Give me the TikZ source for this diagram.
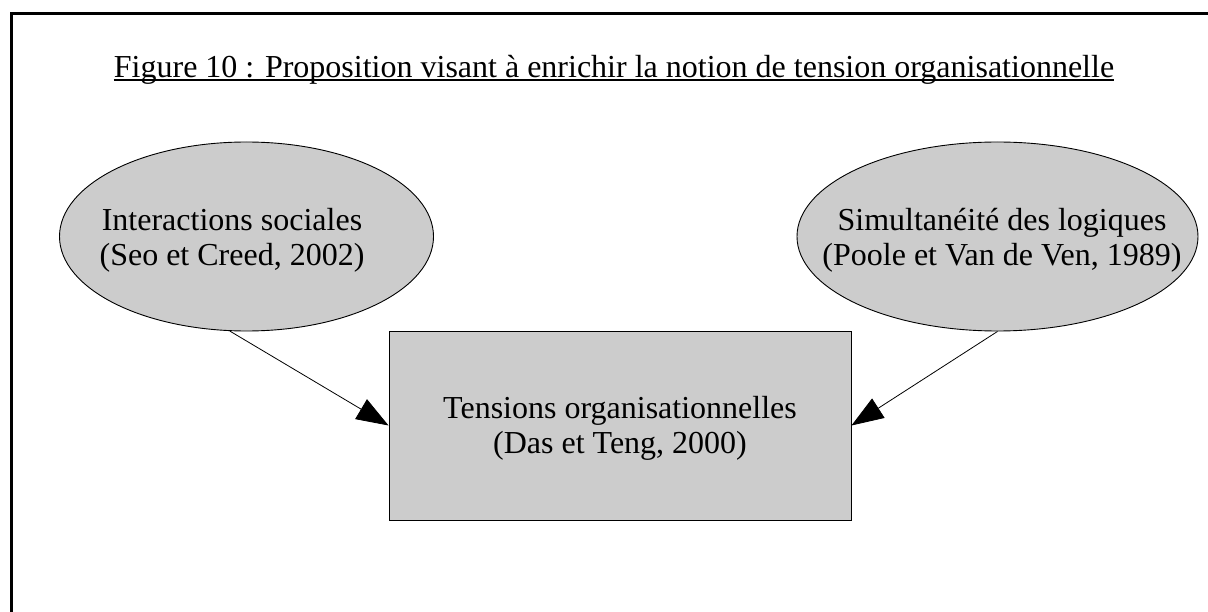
\documentclass[tikz,border=0pt]{standalone}
\usepackage{fontspec}
\setmainfont{Liberation Serif}
\usetikzlibrary{shapes.geometric,arrows.meta}
\definecolor{boxgray}{HTML}{CCCCCC}
\begin{document}
\begin{tikzpicture}[x=1pt,y=-1pt,
  bubble/.style={ellipse, draw=black, line width=0.9pt, fill=boxgray, inner sep=0pt, minimum height=189pt},
  tbox/.style={rectangle, draw=black, line width=0.9pt, fill=boxgray, inner sep=0pt, minimum width=462pt, minimum height=189pt},
  lbl/.style={font=\fontsize{32}{35}\selectfont, align=center, inner sep=0pt},
  conn/.style={line width=0.8pt, -{Triangle[length=32pt,width=23pt]}},
  frame/.style={line width=3pt}]
\useasboundingbox (0,0) rectangle (1208,612);
\fill[white] (0,0) rectangle (1208,612);
\draw[frame] (11,612) -- (11,13.5) -- (1208,13.5);

% title
\node[lbl, anchor=base] (title) at (614,78) {Figure 10 : Proposition visant à enrichir la notion de tension organisationnelle};
\draw[line width=1.4pt] ([yshift=-2pt]title.base west) -- ([yshift=-2pt]title.base east);

% ellipses
\node[bubble, minimum width=374pt] (l) at (246.5,236.5) {};
\node[bubble, minimum width=401pt] (r) at (997.5,236.5) {};
\node[lbl] (ltext) at (232,240) {Interactions sociales\\(Seo et Creed, 2002)};
\node[lbl] (rtext) at (1002,240) {Simultanéité des logiques\\(Poole et Van de Ven, 1989)};

% box
\node[tbox] (box) at (620,425.5) {};
\node[lbl] (btext) at (620,428) {Tensions organisationnelles\\(Das et Teng, 2000)};

% connectors
\draw[conn] (l.260) -- (box.west);
\draw[conn] (r.south) -- (box.east);
\end{tikzpicture}
\end{document}
